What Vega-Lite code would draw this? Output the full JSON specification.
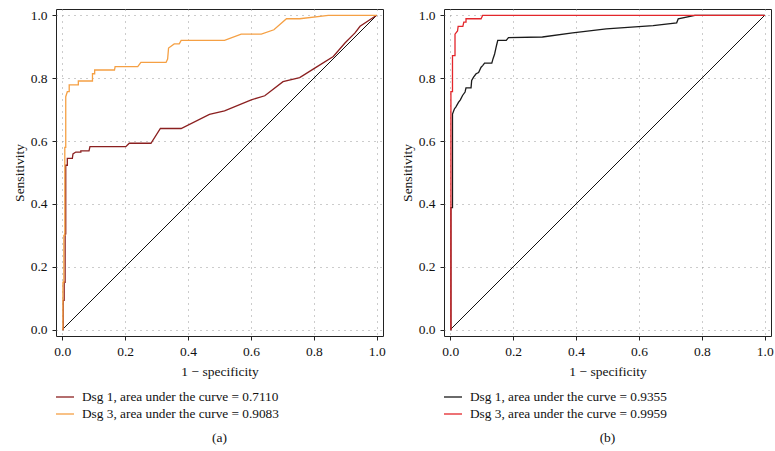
{
  "$schema": "https://vega.github.io/schema/vega-lite/v6.json",
  "padding": {"left": 11, "top": 7, "right": 5, "bottom": 3},
  "background": "white",
  "bounds": "flush",
  "spacing": 61,
  "config": {
    "font": "Liberation Serif",
    "view": {"stroke": "#222", "strokeWidth": 1},
    "axis": {
      "domain": false,
      "grid": true,
      "gridColor": "#999",
      "gridDash": [1, 5],
      "gridWidth": 1,
      "ticks": true,
      "tickSize": 4,
      "tickColor": "#222",
      "labelFont": "Liberation Serif",
      "labelFontSize": 13.5,
      "labelColor": "#111",
      "labelPadding": 5,
      "labelFlush": false,
      "titleFont": "Liberation Serif",
      "titleFontSize": 13.5,
      "titleFontWeight": "normal",
      "titleColor": "#111"
    },
    "axisX": {"titlePadding": 7, "labelPadding": 4},
    "axisY": {"titlePadding": 4},
    "legend": {
      "orient": "bottom",
      "direction": "vertical",
      "title": null,
      "padding": 0,
      "symbolType": "stroke",
      "symbolSize": 441,
      "symbolStrokeWidth": 1.3,
      "symbolOffset": -4,
      "labelFont": "Liberation Serif",
      "labelFontSize": 13.3,
      "labelColor": "#111",
      "labelOffset": 7,
      "labelLimit": 400,
      "clipHeight": 14,
      "rowPadding": 3,
      "offset": 12
    },
    "title": {"orient": "bottom", "anchor": "middle", "font": "Liberation Serif", "fontSize": 13.5, "fontWeight": "normal", "color": "#111", "offset": 10}
  },
  "resolve": {"scale": {"color": "independent"}, "legend": {"color": "independent"}},
  "datasets": {
    "diag": [{"x": 0, "y": 0}, {"x": 1, "y": 1}],
    "a": [
      {"s": "Dsg 1, area under the curve = 0.7110", "i": 0, "x": 0, "y": 0},
      {"s": "Dsg 1, area under the curve = 0.7110", "i": 1, "x": 0.003, "y": 0},
      {"s": "Dsg 1, area under the curve = 0.7110", "i": 2, "x": 0.003, "y": 0.093},
      {"s": "Dsg 1, area under the curve = 0.7110", "i": 3, "x": 0.006, "y": 0.093},
      {"s": "Dsg 1, area under the curve = 0.7110", "i": 4, "x": 0.006, "y": 0.151},
      {"s": "Dsg 1, area under the curve = 0.7110", "i": 5, "x": 0.009, "y": 0.151},
      {"s": "Dsg 1, area under the curve = 0.7110", "i": 6, "x": 0.009, "y": 0.305},
      {"s": "Dsg 1, area under the curve = 0.7110", "i": 7, "x": 0.011, "y": 0.305},
      {"s": "Dsg 1, area under the curve = 0.7110", "i": 8, "x": 0.011, "y": 0.523},
      {"s": "Dsg 1, area under the curve = 0.7110", "i": 9, "x": 0.016, "y": 0.523},
      {"s": "Dsg 1, area under the curve = 0.7110", "i": 10, "x": 0.016, "y": 0.545},
      {"s": "Dsg 1, area under the curve = 0.7110", "i": 11, "x": 0.032, "y": 0.545},
      {"s": "Dsg 1, area under the curve = 0.7110", "i": 12, "x": 0.034, "y": 0.559},
      {"s": "Dsg 1, area under the curve = 0.7110", "i": 13, "x": 0.043, "y": 0.565},
      {"s": "Dsg 1, area under the curve = 0.7110", "i": 14, "x": 0.059, "y": 0.565},
      {"s": "Dsg 1, area under the curve = 0.7110", "i": 15, "x": 0.059, "y": 0.569},
      {"s": "Dsg 1, area under the curve = 0.7110", "i": 16, "x": 0.085, "y": 0.569},
      {"s": "Dsg 1, area under the curve = 0.7110", "i": 17, "x": 0.088, "y": 0.582},
      {"s": "Dsg 1, area under the curve = 0.7110", "i": 18, "x": 0.202, "y": 0.582},
      {"s": "Dsg 1, area under the curve = 0.7110", "i": 19, "x": 0.213, "y": 0.593},
      {"s": "Dsg 1, area under the curve = 0.7110", "i": 20, "x": 0.282, "y": 0.593},
      {"s": "Dsg 1, area under the curve = 0.7110", "i": 21, "x": 0.312, "y": 0.64},
      {"s": "Dsg 1, area under the curve = 0.7110", "i": 22, "x": 0.378, "y": 0.64},
      {"s": "Dsg 1, area under the curve = 0.7110", "i": 23, "x": 0.468, "y": 0.685},
      {"s": "Dsg 1, area under the curve = 0.7110", "i": 24, "x": 0.516, "y": 0.696},
      {"s": "Dsg 1, area under the curve = 0.7110", "i": 25, "x": 0.601, "y": 0.731},
      {"s": "Dsg 1, area under the curve = 0.7110", "i": 26, "x": 0.644, "y": 0.744},
      {"s": "Dsg 1, area under the curve = 0.7110", "i": 27, "x": 0.702, "y": 0.789},
      {"s": "Dsg 1, area under the curve = 0.7110", "i": 28, "x": 0.755, "y": 0.802},
      {"s": "Dsg 1, area under the curve = 0.7110", "i": 29, "x": 0.803, "y": 0.832},
      {"s": "Dsg 1, area under the curve = 0.7110", "i": 30, "x": 0.862, "y": 0.869},
      {"s": "Dsg 1, area under the curve = 0.7110", "i": 31, "x": 0.899, "y": 0.912},
      {"s": "Dsg 1, area under the curve = 0.7110", "i": 32, "x": 0.931, "y": 0.944},
      {"s": "Dsg 1, area under the curve = 0.7110", "i": 33, "x": 0.947, "y": 0.965},
      {"s": "Dsg 1, area under the curve = 0.7110", "i": 34, "x": 1, "y": 1},
      {"s": "Dsg 3, area under the curve = 0.9083", "i": 0, "x": 0, "y": 0},
      {"s": "Dsg 3, area under the curve = 0.9083", "i": 1, "x": 0.002, "y": 0},
      {"s": "Dsg 3, area under the curve = 0.9083", "i": 2, "x": 0.002, "y": 0.151},
      {"s": "Dsg 3, area under the curve = 0.9083", "i": 3, "x": 0.005, "y": 0.151},
      {"s": "Dsg 3, area under the curve = 0.9083", "i": 4, "x": 0.005, "y": 0.3},
      {"s": "Dsg 3, area under the curve = 0.9083", "i": 5, "x": 0.008, "y": 0.3},
      {"s": "Dsg 3, area under the curve = 0.9083", "i": 6, "x": 0.008, "y": 0.58},
      {"s": "Dsg 3, area under the curve = 0.9083", "i": 7, "x": 0.011, "y": 0.58},
      {"s": "Dsg 3, area under the curve = 0.9083", "i": 8, "x": 0.011, "y": 0.741},
      {"s": "Dsg 3, area under the curve = 0.9083", "i": 9, "x": 0.016, "y": 0.757},
      {"s": "Dsg 3, area under the curve = 0.9083", "i": 10, "x": 0.022, "y": 0.757},
      {"s": "Dsg 3, area under the curve = 0.9083", "i": 11, "x": 0.022, "y": 0.779},
      {"s": "Dsg 3, area under the curve = 0.9083", "i": 12, "x": 0.051, "y": 0.779},
      {"s": "Dsg 3, area under the curve = 0.9083", "i": 13, "x": 0.051, "y": 0.791},
      {"s": "Dsg 3, area under the curve = 0.9083", "i": 14, "x": 0.096, "y": 0.791},
      {"s": "Dsg 3, area under the curve = 0.9083", "i": 15, "x": 0.096, "y": 0.814},
      {"s": "Dsg 3, area under the curve = 0.9083", "i": 16, "x": 0.103, "y": 0.814},
      {"s": "Dsg 3, area under the curve = 0.9083", "i": 17, "x": 0.103, "y": 0.826},
      {"s": "Dsg 3, area under the curve = 0.9083", "i": 18, "x": 0.166, "y": 0.826},
      {"s": "Dsg 3, area under the curve = 0.9083", "i": 19, "x": 0.168, "y": 0.837},
      {"s": "Dsg 3, area under the curve = 0.9083", "i": 20, "x": 0.24, "y": 0.837},
      {"s": "Dsg 3, area under the curve = 0.9083", "i": 21, "x": 0.25, "y": 0.85},
      {"s": "Dsg 3, area under the curve = 0.9083", "i": 22, "x": 0.33, "y": 0.85},
      {"s": "Dsg 3, area under the curve = 0.9083", "i": 23, "x": 0.335, "y": 0.861},
      {"s": "Dsg 3, area under the curve = 0.9083", "i": 24, "x": 0.338, "y": 0.896},
      {"s": "Dsg 3, area under the curve = 0.9083", "i": 25, "x": 0.356, "y": 0.909},
      {"s": "Dsg 3, area under the curve = 0.9083", "i": 26, "x": 0.372, "y": 0.909},
      {"s": "Dsg 3, area under the curve = 0.9083", "i": 27, "x": 0.378, "y": 0.92},
      {"s": "Dsg 3, area under the curve = 0.9083", "i": 28, "x": 0.516, "y": 0.92},
      {"s": "Dsg 3, area under the curve = 0.9083", "i": 29, "x": 0.569, "y": 0.94},
      {"s": "Dsg 3, area under the curve = 0.9083", "i": 30, "x": 0.633, "y": 0.94},
      {"s": "Dsg 3, area under the curve = 0.9083", "i": 31, "x": 0.673, "y": 0.954},
      {"s": "Dsg 3, area under the curve = 0.9083", "i": 32, "x": 0.713, "y": 0.989},
      {"s": "Dsg 3, area under the curve = 0.9083", "i": 33, "x": 0.755, "y": 0.989},
      {"s": "Dsg 3, area under the curve = 0.9083", "i": 34, "x": 0.846, "y": 1},
      {"s": "Dsg 3, area under the curve = 0.9083", "i": 35, "x": 1, "y": 1}
    ],
    "b": [
      {"s": "Dsg 1, area under the curve = 0.9355", "i": 0, "x": 0, "y": 0},
      {"s": "Dsg 1, area under the curve = 0.9355", "i": 1, "x": 0.002, "y": 0},
      {"s": "Dsg 1, area under the curve = 0.9355", "i": 2, "x": 0.002, "y": 0.388},
      {"s": "Dsg 1, area under the curve = 0.9355", "i": 3, "x": 0.007, "y": 0.388},
      {"s": "Dsg 1, area under the curve = 0.9355", "i": 4, "x": 0.007, "y": 0.686},
      {"s": "Dsg 1, area under the curve = 0.9355", "i": 5, "x": 0.013, "y": 0.702},
      {"s": "Dsg 1, area under the curve = 0.9355", "i": 6, "x": 0.018, "y": 0.709},
      {"s": "Dsg 1, area under the curve = 0.9355", "i": 7, "x": 0.026, "y": 0.723},
      {"s": "Dsg 1, area under the curve = 0.9355", "i": 8, "x": 0.032, "y": 0.731},
      {"s": "Dsg 1, area under the curve = 0.9355", "i": 9, "x": 0.039, "y": 0.745},
      {"s": "Dsg 1, area under the curve = 0.9355", "i": 10, "x": 0.047, "y": 0.756},
      {"s": "Dsg 1, area under the curve = 0.9355", "i": 11, "x": 0.05, "y": 0.769},
      {"s": "Dsg 1, area under the curve = 0.9355", "i": 12, "x": 0.066, "y": 0.769},
      {"s": "Dsg 1, area under the curve = 0.9355", "i": 13, "x": 0.068, "y": 0.793},
      {"s": "Dsg 1, area under the curve = 0.9355", "i": 14, "x": 0.074, "y": 0.803},
      {"s": "Dsg 1, area under the curve = 0.9355", "i": 15, "x": 0.082, "y": 0.814},
      {"s": "Dsg 1, area under the curve = 0.9355", "i": 16, "x": 0.09, "y": 0.818},
      {"s": "Dsg 1, area under the curve = 0.9355", "i": 17, "x": 0.098, "y": 0.835},
      {"s": "Dsg 1, area under the curve = 0.9355", "i": 18, "x": 0.103, "y": 0.84},
      {"s": "Dsg 1, area under the curve = 0.9355", "i": 19, "x": 0.109, "y": 0.848},
      {"s": "Dsg 1, area under the curve = 0.9355", "i": 20, "x": 0.132, "y": 0.848},
      {"s": "Dsg 1, area under the curve = 0.9355", "i": 21, "x": 0.136, "y": 0.862},
      {"s": "Dsg 1, area under the curve = 0.9355", "i": 22, "x": 0.141, "y": 0.877},
      {"s": "Dsg 1, area under the curve = 0.9355", "i": 23, "x": 0.147, "y": 0.904},
      {"s": "Dsg 1, area under the curve = 0.9355", "i": 24, "x": 0.151, "y": 0.92},
      {"s": "Dsg 1, area under the curve = 0.9355", "i": 25, "x": 0.178, "y": 0.92},
      {"s": "Dsg 1, area under the curve = 0.9355", "i": 26, "x": 0.185, "y": 0.929},
      {"s": "Dsg 1, area under the curve = 0.9355", "i": 27, "x": 0.293, "y": 0.931},
      {"s": "Dsg 1, area under the curve = 0.9355", "i": 28, "x": 0.389, "y": 0.944},
      {"s": "Dsg 1, area under the curve = 0.9355", "i": 29, "x": 0.496, "y": 0.957},
      {"s": "Dsg 1, area under the curve = 0.9355", "i": 30, "x": 0.645, "y": 0.967},
      {"s": "Dsg 1, area under the curve = 0.9355", "i": 31, "x": 0.72, "y": 0.976},
      {"s": "Dsg 1, area under the curve = 0.9355", "i": 32, "x": 0.725, "y": 0.989},
      {"s": "Dsg 1, area under the curve = 0.9355", "i": 33, "x": 0.778, "y": 1},
      {"s": "Dsg 1, area under the curve = 0.9355", "i": 34, "x": 1, "y": 1},
      {"s": "Dsg 3, area under the curve = 0.9959", "i": 0, "x": 0, "y": 0},
      {"s": "Dsg 3, area under the curve = 0.9959", "i": 1, "x": 0.002, "y": 0},
      {"s": "Dsg 3, area under the curve = 0.9959", "i": 2, "x": 0.002, "y": 0.757},
      {"s": "Dsg 3, area under the curve = 0.9959", "i": 3, "x": 0.007, "y": 0.757},
      {"s": "Dsg 3, area under the curve = 0.9959", "i": 4, "x": 0.007, "y": 0.872},
      {"s": "Dsg 3, area under the curve = 0.9959", "i": 5, "x": 0.015, "y": 0.872},
      {"s": "Dsg 3, area under the curve = 0.9959", "i": 6, "x": 0.015, "y": 0.94},
      {"s": "Dsg 3, area under the curve = 0.9959", "i": 7, "x": 0.023, "y": 0.95},
      {"s": "Dsg 3, area under the curve = 0.9959", "i": 8, "x": 0.025, "y": 0.965},
      {"s": "Dsg 3, area under the curve = 0.9959", "i": 9, "x": 0.04, "y": 0.965},
      {"s": "Dsg 3, area under the curve = 0.9959", "i": 10, "x": 0.043, "y": 0.978},
      {"s": "Dsg 3, area under the curve = 0.9959", "i": 11, "x": 0.05, "y": 0.978},
      {"s": "Dsg 3, area under the curve = 0.9959", "i": 12, "x": 0.05, "y": 0.989},
      {"s": "Dsg 3, area under the curve = 0.9959", "i": 13, "x": 0.098, "y": 0.989},
      {"s": "Dsg 3, area under the curve = 0.9959", "i": 14, "x": 0.103, "y": 1},
      {"s": "Dsg 3, area under the curve = 0.9959", "i": 15, "x": 1, "y": 1}
    ]
  },
  "hconcat": [
    {
      "width": 327,
      "height": 327,
      "title": {"text": "(a)"},
      "layer": [
        {
          "data": {"name": "diag"},
          "mark": {"type": "line", "color": "#111", "strokeWidth": 1},
          "encoding": {
            "x": {"field": "x", "type": "quantitative", "scale": {"domain": [-0.02, 1.02], "nice": false, "zero": false}, "title": "1 − specificity", "axis": {"values": [0, 0.2, 0.4, 0.6, 0.8, 1], "format": ".1f"}},
            "y": {"field": "y", "type": "quantitative", "scale": {"domain": [-0.02, 1.02], "nice": false, "zero": false}, "title": "Sensitivity", "axis": {"values": [0, 0.2, 0.4, 0.6, 0.8, 1], "format": ".1f"}}
          }
        },
        {
          "data": {"name": "a"},
          "mark": {"type": "line", "strokeWidth": 1.3},
          "encoding": {
            "x": {"field": "x", "type": "quantitative"},
            "y": {"field": "y", "type": "quantitative"},
            "color": {"field": "s", "type": "nominal", "scale": {"domain": ["Dsg 1, area under the curve = 0.7110", "Dsg 3, area under the curve = 0.9083"], "range": ["#8b2020", "#f5a044"]}},
            "order": {"field": "i", "type": "quantitative"}
          }
        }
      ]
    },
    {
      "width": 327,
      "height": 327,
      "title": {"text": "(b)"},
      "layer": [
        {
          "data": {"name": "diag"},
          "mark": {"type": "line", "color": "#111", "strokeWidth": 1},
          "encoding": {
            "x": {"field": "x", "type": "quantitative", "scale": {"domain": [-0.02, 1.02], "nice": false, "zero": false}, "title": "1 − specificity", "axis": {"values": [0, 0.2, 0.4, 0.6, 0.8, 1], "format": ".1f"}},
            "y": {"field": "y", "type": "quantitative", "scale": {"domain": [-0.02, 1.02], "nice": false, "zero": false}, "title": "Sensitivity", "axis": {"values": [0, 0.2, 0.4, 0.6, 0.8, 1], "format": ".1f"}}
          }
        },
        {
          "data": {"name": "b"},
          "mark": {"type": "line", "strokeWidth": 1.3},
          "encoding": {
            "x": {"field": "x", "type": "quantitative"},
            "y": {"field": "y", "type": "quantitative"},
            "color": {"field": "s", "type": "nominal", "scale": {"domain": ["Dsg 1, area under the curve = 0.9355", "Dsg 3, area under the curve = 0.9959"], "range": ["#1a1a1a", "#e3262b"]}},
            "order": {"field": "i", "type": "quantitative"}
          }
        }
      ]
    }
  ]
}
